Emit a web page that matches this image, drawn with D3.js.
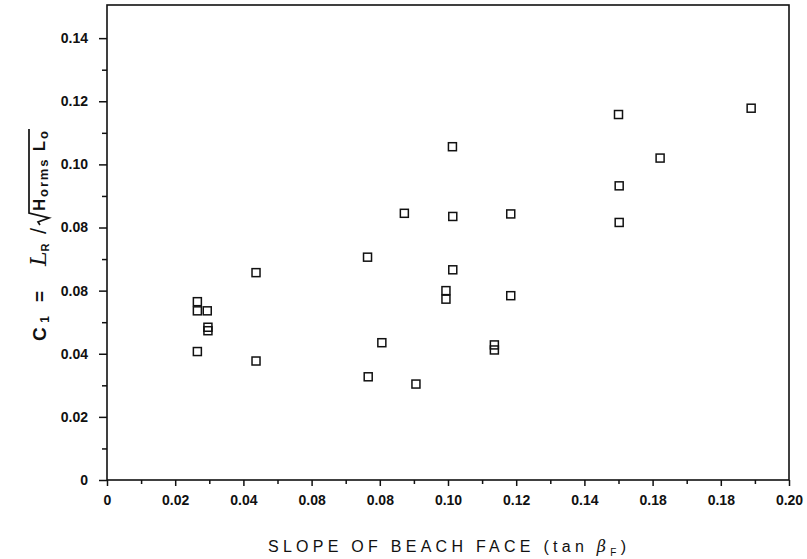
<!DOCTYPE html>
<html>
<head>
<meta charset="utf-8">
<script src="https://cdn.jsdelivr.net/npm/d3@7"></script>
<style>
body { margin: 0; background: #fff; }
</style>
</head>
<body>
<div id="chart"></div>
<script>
// beach face slope (tan beta_F) for each run
var slopes = [0.0265, 0.0265, 0.0294, 0.0296, 0.0296, 0.0265, 0.0437, 0.0437, 0.0764, 0.0766,
              0.1013, 0.0872, 0.1014, 0.1184, 0.1014, 0.0994, 0.0994, 0.1184, 0.0806, 0.1136,
              0.1136, 0.0906, 0.1500, 0.1889, 0.1622, 0.1502, 0.1502];
// C1 coefficient for each run
var c1Values = [0.0565, 0.0536, 0.0536, 0.0484, 0.0473, 0.0407, 0.0657, 0.0377, 0.0706, 0.0327,
                0.1056, 0.0845, 0.0835, 0.0843, 0.0666, 0.0600, 0.0573, 0.0584, 0.0435, 0.0428,
                0.0412, 0.0304, 0.1158, 0.1178, 0.1020, 0.0932, 0.0816];

var xTicks = [0, 0.02, 0.04, 0.06, 0.08, 0.10, 0.12, 0.14, 0.16, 0.18, 0.20];
var xTickLabels = ["0", "0.02", "0.04", "0.08", "0.08", "0.10", "0.12", "0.14", "0.18", "0.18", "0.20"];
var xMinor = [0.01, 0.03, 0.05, 0.07, 0.09, 0.11, 0.13, 0.15, 0.17, 0.19];
var yTicks = [0, 0.02, 0.04, 0.06, 0.08, 0.10, 0.12, 0.14];
var yTickLabels = ["0", "0.02", "0.04", "0.08", "0.08", "0.10", "0.12", "0.14"];
var yMinor = [0.01, 0.03, 0.05, 0.07, 0.09, 0.11, 0.13];

var width = 807, height = 559;
var margin = {top: 5, right: 18, bottom: 79, left: 107};
var ink = "#111";
var sans = "'Liberation Sans', Arial, sans-serif";

var svg = d3.select("#chart").append("svg")
	.attr("width", width)
	.attr("height", height);

var x = d3.scaleLinear().domain([0, 0.2]).range([margin.left, width - margin.right]);
var y = d3.scaleLinear().domain([0, 0.1505]).range([height - margin.bottom, margin.top]);

// frame
svg.append("rect")
	.attr("x", x(0))
	.attr("y", y(0.1505))
	.attr("width", x(0.2) - x(0))
	.attr("height", y(0) - y(0.1505))
	.attr("fill", "none")
	.attr("stroke", ink)
	.attr("stroke-width", 1.6);

// x axis, major + minor ticks
svg.append("g")
	.attr("transform", "translate(0," + y(0) + ")")
	.call(d3.axisBottom(x).tickValues(xTicks).tickSize(6).tickPadding(9)
		.tickFormat(function(d, i) { return xTickLabels[i]; }));
svg.append("g")
	.attr("transform", "translate(0," + y(0) + ")")
	.call(d3.axisBottom(x).tickValues(xMinor).tickSize(4).tickFormat(""));

// y axis
svg.append("g")
	.attr("transform", "translate(" + x(0) + ",0)")
	.call(d3.axisLeft(y).tickValues(yTicks).tickSize(8).tickPadding(11)
		.tickFormat(function(d, i) { return yTickLabels[i]; }));
svg.append("g")
	.attr("transform", "translate(" + x(0) + ",0)")
	.call(d3.axisLeft(y).tickValues(yMinor).tickSize(5).tickFormat(""));

svg.selectAll(".domain").remove();
svg.selectAll(".tick line").attr("stroke", ink).attr("stroke-width", 1.5);
svg.selectAll(".tick text")
	.attr("fill", ink)
	.style("font-family", sans)
	.style("font-size", "14px")
	.style("font-weight", "bold");

// data squares
svg.append("g").selectAll("rect")
	.data(slopes.map(function(s, i) { return [s, c1Values[i]]; }))
	.enter()
	.append("rect")
	.attr("x", function(d) { return x(d[0]) - 4; })
	.attr("y", function(d) { return y(d[1]) - 4; })
	.attr("width", 8)
	.attr("height", 8)
	.attr("fill", "none")
	.attr("stroke", ink)
	.attr("stroke-width", 1.5);

// x title
var xt = svg.append("text")
	.attr("x", 447)
	.attr("y", 552)
	.attr("text-anchor", "middle")
	.attr("textLength", 358)
	.attr("lengthAdjust", "spacing")
	.attr("fill", ink)
	.style("font-family", sans)
	.style("font-size", "16px");
xt.append("tspan").text("SLOPE OF BEACH FACE (tan ");
xt.append("tspan").style("font-style", "italic").style("font-family", "'DejaVu Serif', serif").text("β");
xt.append("tspan").attr("dy", 4).style("font-size", "10px").text("F");
xt.append("tspan").attr("dy", -4).text(")");

// y title, rotated
var yg = svg.append("g")
	.attr("transform", "translate(46,235) rotate(-90)")
	.style("font-family", sans)
	.attr("fill", ink);

var c1 = yg.append("text").attr("x", -106).attr("y", 0)
	.attr("textLength", 50).attr("lengthAdjust", "spacing")
	.style("font-size", "19px").style("font-weight", "bold");
c1.append("tspan").text("C");
c1.append("tspan").attr("dy", 3).style("font-size", "12px").text("1");
c1.append("tspan").attr("dy", -3).text(" =");

// script L with R subscript
var lr = yg.append("text").attr("x", -31).attr("y", 0);
lr.append("tspan").style("font-family", "'DejaVu Serif', serif").style("font-style", "italic")
	.style("font-size", "22px").text("L");
lr.append("tspan").attr("dy", 3).style("font-size", "11px").style("font-weight", "bold").text("R");

yg.append("text").attr("x", 1).attr("y", 0)
	.style("font-size", "22px").text("/");

var hl = yg.append("text").attr("x", 24).attr("y", -1)
	.attr("textLength", 80).attr("lengthAdjust", "spacing")
	.style("font-size", "17px").style("font-weight", "bold");
hl.append("tspan").text("H");
hl.append("tspan").attr("dy", 3).style("font-size", "13px").text("orms");
hl.append("tspan").attr("dy", -3).text(" L");
hl.append("tspan").attr("dy", 3).style("font-size", "13px").text("o");

// radical sign over "Horms Lo"
yg.append("path")
	.attr("d", "M10,-6 L13,-8 L17,3 L22,-17 L106,-17")
	.attr("fill", "none")
	.attr("stroke", ink)
	.attr("stroke-width", 1.7);
</script>
</body>
</html>
